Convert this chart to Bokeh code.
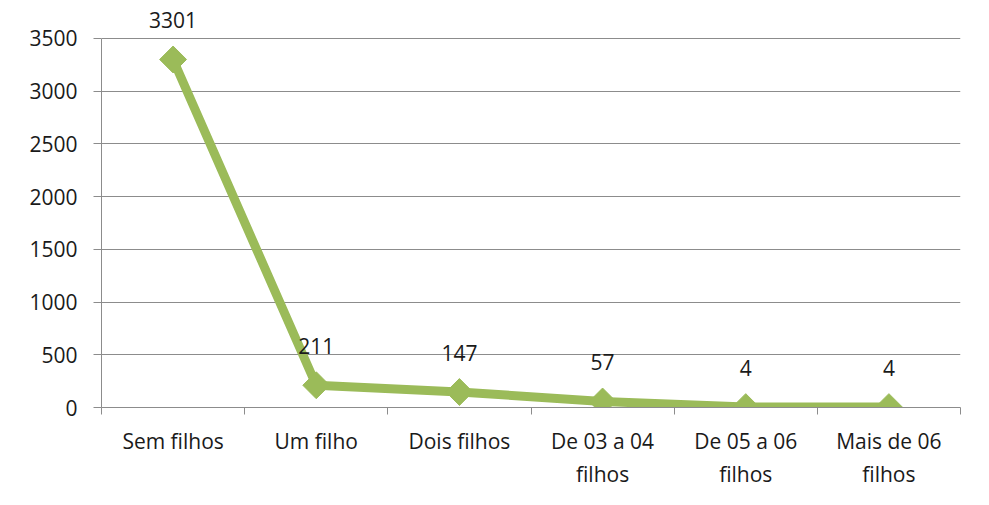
import math
from bokeh.plotting import figure
from bokeh.models import ColumnDataSource, FixedTicker, Range1d, LabelSet
from bokeh.core.properties import value
from bokeh.embed import file_html
from bokeh.resources import INLINE

categories = ["Sem filhos", "Um filho", "Dois filhos", "De 03 a 04\nfilhos", "De 05 a 06\nfilhos", "Mais de 06\nfilhos"]
values = [3301, 211, 147, 57, 4, 4]
y_ticks = [0, 500, 1000, 1500, 2000, 2500, 3000, 3500]

xs = [i + 0.5 for i in range(len(categories))]
src = ColumnDataSource(dict(x=xs, y=values, lbl=[str(v) for v in values]))

FONT = "Open Sans"
FS = "21px"
p = figure(frame_width=859, frame_height=400, width=981, height=497,
           min_border_left=101, min_border_right=21, min_border_top=7, min_border_bottom=90,
           output_backend="svg", toolbar_location=None,
           x_range=Range1d(0, len(categories)), y_range=Range1d(0, 3794))
p.outline_line_color = None
p.background_fill_color = "white"
p.border_fill_color = "white"

# grid
p.xgrid.grid_line_color = None
p.ygrid.grid_line_color = "#8c8c8c"
p.ygrid.grid_line_width = 1
p.ygrid.ticker = FixedTicker(ticks=y_ticks)

# y axis
p.yaxis.ticker = FixedTicker(ticks=y_ticks)
p.yaxis.bounds = (0, 3500)
p.yaxis.axis_line_color = "#8c8c8c"
p.yaxis.major_tick_line_color = "#8c8c8c"
p.yaxis.major_tick_out = 8
p.yaxis.major_tick_in = 0
p.yaxis.minor_tick_line_color = None
p.yaxis.major_label_standoff = 16
p.yaxis.major_label_text_font = FONT
p.yaxis.major_label_text_font_size = FS
p.yaxis.major_label_text_color = "#1a1a1a"

# x axis
p.xaxis.ticker = FixedTicker(ticks=xs, minor_ticks=list(range(len(categories) + 1)))
p.xaxis.major_label_overrides = {x: c for x, c in zip(xs, categories)}
p.xaxis.axis_line_color = "#8c8c8c"
p.xaxis.major_tick_line_color = None
p.xaxis.major_tick_out = 7
p.xaxis.major_tick_in = 0
p.xaxis.minor_tick_line_color = "#8c8c8c"
p.xaxis.minor_tick_out = 7
p.xaxis.minor_tick_in = 0
p.xaxis.major_label_standoff = 12
p.xaxis.major_label_text_font = FONT
p.xaxis.major_label_text_font_size = FS
p.xaxis.major_label_text_color = "#1a1a1a"
p.xaxis.major_label_text_line_height = 1.2

# line + markers
p.line("x", "y", source=src, line_color="#9BBB59", line_width=9, line_join="round")
p.scatter("x", "y", source=src, marker="square", size=19, angle=math.pi / 4,
          fill_color="#9BBB59", line_color="#9BBB59")

labels = LabelSet(x="x", y="y", text="lbl", source=src, y_offset=31,
                  text_align="center", text_baseline="alphabetic",
                  text_font=value(FONT), text_font_size=FS, text_color="#1a1a1a")
p.add_layout(labels)

open("out.html", "w").write(file_html(p, INLINE))
